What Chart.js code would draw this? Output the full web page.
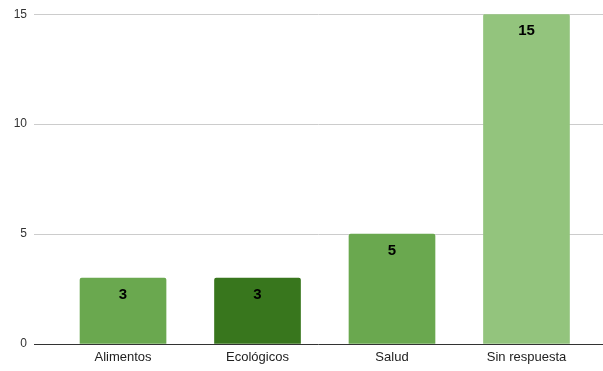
<!DOCTYPE html>
<html>
<head>
<meta charset="utf-8">
<script src="https://cdn.jsdelivr.net/npm/chart.js@4"></script>
<style>
  html, body { margin: 0; padding: 0; background: #fff; }
  #wrap { width: 603px; height: 371px; }
</style>
</head>
<body>
<div id="wrap"><canvas id="barChart"></canvas></div>
<script>
const categories = ["Alimentos", "Ecológicos", "Salud", "Sin respuesta"];
const counts = [3, 3, 5, 15];
const barColors = ["#6aa84f", "#38761d", "#6aa84f", "#93c47d"];
const yTicks = [0, 5, 10, 15];

// numbers drawn inside the top of each bar
const valueLabels = {
    id: "valueLabels",
    afterDatasetsDraw(chart) {
        const ctx = chart.ctx;
        const meta = chart.getDatasetMeta(0);
        ctx.save();
        ctx.font = "bold 15px Arial, 'Liberation Sans', sans-serif";
        ctx.fillStyle = "#000";
        ctx.textAlign = "center";
        ctx.textBaseline = "middle";
        meta.data.forEach((bar, i) => {
            ctx.fillText(String(counts[i]), bar.x, bar.y + 17);
        });
        ctx.restore();
    }
};

document.addEventListener("DOMContentLoaded", function () {
    const ctx = document.getElementById("barChart");

    new Chart(ctx, {
        type: "bar",
        data: {
            datasets: [{
                data: counts.map((v, i) => ({ x: i, y: v })),
                backgroundColor: barColors,
                borderRadius: 2,
                borderSkipped: "bottom",
                barThickness: 86
            }]
        },
        options: {
            responsive: true,
            maintainAspectRatio: false,
            animation: false,
            layout: { padding: { top: 8, right: 0, bottom: 0, left: 0 } },
            plugins: {
                legend: { display: false },
                tooltip: { enabled: false }
            },
            scales: {
                x: {
                    type: "linear",
                    offset: false,
                    bounds: "data",
                    min: -0.662,
                    max: 3.569,
                    grid: { display: false, drawTicks: false },
                    border: { display: false },
                    afterBuildTicks: axis => {
                        axis.ticks = categories.map((c, i) => ({ value: i }));
                    },
                    afterFit: axis => { axis.height = 27; },
                    ticks: {
                        autoSkip: false,
                        maxRotation: 0,
                        padding: 6,
                        color: "#222",
                        font: { family: "Arial, 'Liberation Sans', sans-serif", size: 13 },
                        callback: v => categories[v]
                    }
                },
                y: {
                    min: 0,
                    max: 15,
                    afterBuildTicks: axis => {
                        axis.ticks = yTicks.map(v => ({ value: v }));
                    },
                    afterFit: axis => { axis.width = 34; },
                    border: { display: false },
                    grid: {
                        color: c => c.tick.value === 0 ? "#333" : "#cccccc",
                        lineWidth: 1,
                        drawTicks: false
                    },
                    ticks: {
                        padding: 7,
                        color: "#333",
                        font: { family: "Arial, 'Liberation Sans', sans-serif", size: 12 }
                    }
                }
            }
        },
        plugins: [valueLabels]
    });
});
</script>
</body>
</html>
